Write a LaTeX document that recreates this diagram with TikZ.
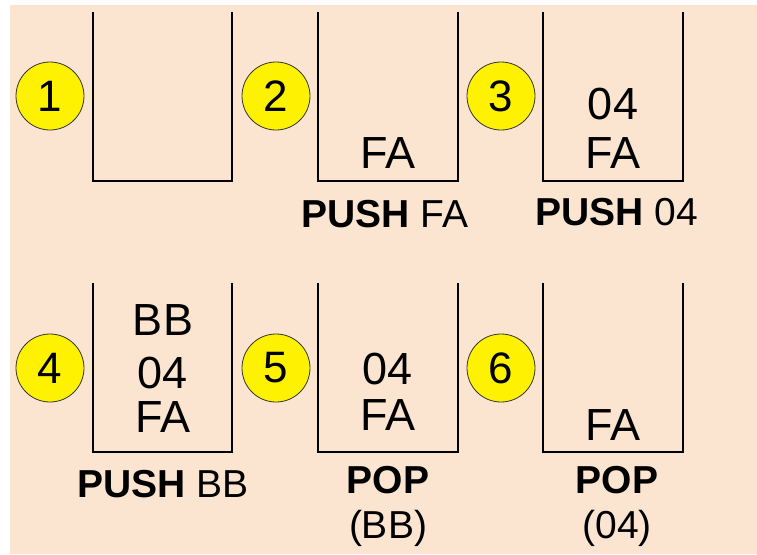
\documentclass[tikz,border=0pt]{standalone}
\usepackage{fontspec}
\setmainfont{Liberation Sans}
\usepackage{tikz}
\usetikzlibrary{positioning}
\definecolor{peach}{RGB}{251,229,208}

\begin{document}
\begin{tikzpicture}[x=1pt,y=-1pt,
                       num node/.style={circle,fill=yellow,draw=black!80,line width=0.8pt,minimum size=68pt,inner sep=0pt,font=\fontsize{44}{50}\selectfont},
                       item node/.style={anchor=base,inner sep=0pt,font=\fontsize{45}{52}\selectfont},
                       op node/.style={anchor=base,inner sep=0pt,font=\fontsize{39}{46}\selectfont},
                       wall/.style={line width=2pt,line join=miter}
                      ]
  \useasboundingbox (0,0) rectangle (757,554);
  \fill[peach] (10,5) rectangle (757,554);
  % stacks
  \draw[wall] (93,12) -- (93,181) -- (232,181) -- (232,12);
  \draw[wall] (318,12) -- (318,181) -- (458,181) -- (458,12);
  \draw[wall] (543,12) -- (543,181) -- (683,181) -- (683,12);
  \draw[wall] (93,283) -- (93,452) -- (232,452) -- (232,283);
  \draw[wall] (318,283) -- (318,452) -- (458,452) -- (458,283);
  \draw[wall] (543,283) -- (543,452) -- (683,452) -- (683,283);
  % step numbers
  \node[num node] (n1) at (50,96) {1};
  \node[num node] (n2) at (276,96) {2};
  \node[num node] (n3) at (501,96) {3};
  \node[num node] (n4) at (50,368) {4};
  \node[num node] (n5) at (276,368) {5};
  \node[num node] (n6) at (501,368) {6};
  % contents
  \node[item node] (s2a) at (388,168) {FA};
  \node[item node] (s3a) at (613,168) {FA};
  \node[item node] (s3b) at (613,119) {04};
  \node[item node] (s4a) at (163,432) {FA};
  \node[item node] (s4b) at (163,388) {04};
  \node[item node] (s4c) at (163,335) {BB};
  \node[item node] (s5a) at (388,430) {FA};
  \node[item node] (s5b) at (388,384) {04};
  \node[item node] (s6a) at (613,440) {FA};
  % operations
  \node[op node] (o2) at (385,227) {\textbf{PUSH} FA};
  \node[op node] (o3) at (617,225) {\textbf{PUSH} 04};
  \node[op node] (o4) at (163,497) {\textbf{PUSH} BB};
  \node[op node] (o5) at (388,493) {\textbf{POP}};
  \node[op node] (o5b) at (388,538) {(BB)};
  \node[op node] (o6) at (617,493) {\textbf{POP}};
  \node[op node] (o6b) at (617,538) {(04)};
\end{tikzpicture}
\end{document}
